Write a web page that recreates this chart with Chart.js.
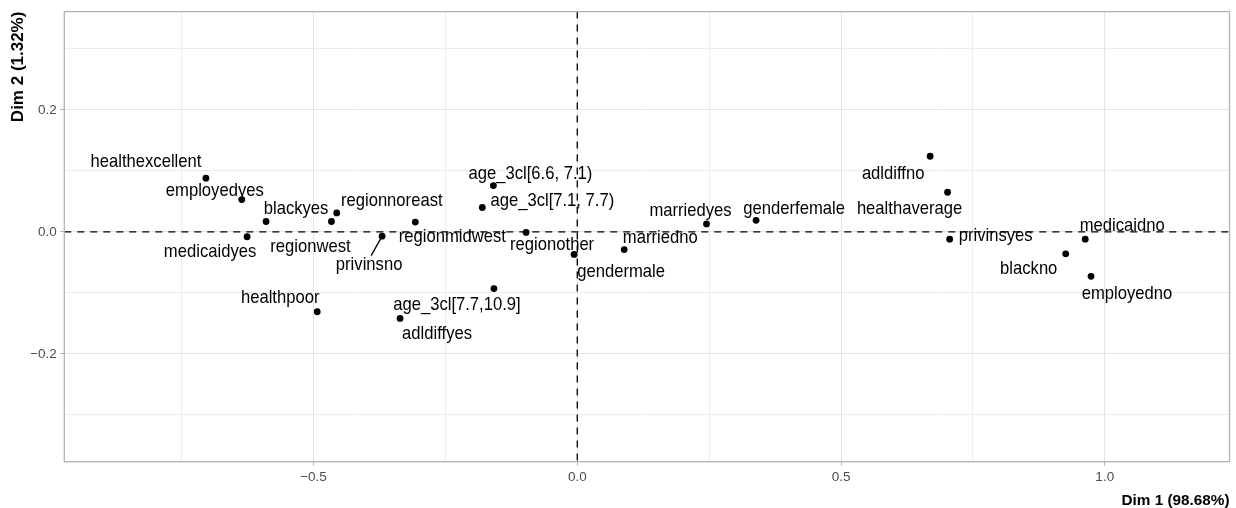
<!DOCTYPE html>
<html>
<head>
<meta charset="utf-8">
<title>MCA - variable categories</title>
<script src="https://cdn.jsdelivr.net/npm/chart.js@4.4.1/dist/chart.umd.min.js"></script>
<style>
  html, body { margin: 0; padding: 0; background: #fff; }
</style>
</head>
<body>
<canvas id="mcaChart" width="1236" height="508"></canvas>
<script>
// category coordinates
const categories = [
    "healthexcellent", "healthaverage", "healthpoor",
    "employedyes", "employedno",
    "blackyes", "blackno",
    "regionnoreast", "regionmidwest", "regionwest", "regionother",
    "medicaidyes", "medicaidno",
    "privinsyes", "privinsno",
    "age_3cl[6.6, 7.1)", "age_3cl[7.1, 7.7)", "age_3cl[7.7,10.9]",
    "adldiffyes", "adldiffno",
    "marriedyes", "marriedno",
    "genderfemale", "gendermale"
];
const dim1 = [
    -0.704, 0.702, -0.493,
    -0.636, 0.974,
    -0.590, 0.926,
    -0.456, -0.307, -0.466, -0.097,
    -0.626, 0.963,
    0.706, -0.370,
    -0.159, -0.180, -0.158,
    -0.336, 0.669,
    0.245, 0.089,
    0.339, -0.006
];
const dim2 = [
    0.088, 0.065, -0.131,
    0.053, -0.073,
    0.017, -0.036,
    0.031, 0.016, 0.017, -0.001,
    -0.008, -0.012,
    -0.012, -0.007,
    0.076, 0.040, -0.093,
    -0.142, 0.124,
    0.013, -0.029,
    0.019, -0.037
];

const xMajorTicks = [-0.5, 0, 0.5, 1.0];
const xTickLabels = ["\u22120.5", "0.0", "0.5", "1.0"];
const xMinorTicks = [-0.75, -0.25, 0.25, 0.75];
const yMajorTicks = [-0.2, 0, 0.2];
const yTickLabels = ["\u22120.2", "0.0", "0.2"];
const yMinorTicks = [-0.3, -0.1, 0.1, 0.3];

const xTitle = "Dim 1 (98.68%)";
const yTitle = "Dim 2 (1.32%)";

// where each text label sits relative to its point (pixels), like ggrepel placed them
const labelNudge = {
    "healthexcellent": [-60, -16],
    "healthaverage": [-38, 17],
    "healthpoor": [-37, -14],
    "employedyes": [-27, -9],
    "employedno": [36, 17],
    "blackyes": [30, -13],
    "blackno": [-37, 15],
    "regionnoreast": [55, -12],
    "regionmidwest": [37, 15],
    "regionwest": [-21, 25],
    "regionother": [26, 12],
    "medicaidyes": [-37, 15],
    "medicaidno": [37, -13],
    "privinsyes": [46, -3],
    "privinsno": [-13, 29, true],
    "age_3cl[6.6, 7.1)": [37, -12],
    "age_3cl[7.1, 7.7)": [70, -7],
    "age_3cl[7.7,10.9]": [-37, 16],
    "adldiffyes": [37, 15],
    "adldiffno": [-37, 17],
    "marriedyes": [-16, -13],
    "marriedno": [36, -12],
    "genderfemale": [38, -12],
    "gendermale": [47, 17]
};

const sans = '"Liberation Sans", Arial, sans-serif';
const xGrid = [...xMinorTicks, ...xMajorTicks].sort((a, b) => a - b);
const yGrid = [...yMinorTicks, ...yMajorTicks].sort((a, b) => a - b);

const isMajor = (list, v) => list.some(t => Math.abs(t - v) < 1e-9);

const mcaDecor = {
    id: "mcaDecor",
    beforeDatasetsDraw(chart) {
        const { ctx, chartArea: a, scales: { x, y } } = chart;
        ctx.save();
        // zero lines
        ctx.strokeStyle = "#000";
        ctx.lineWidth = 1.3;
        ctx.setLineDash([7, 6]);
        const x0 = x.getPixelForValue(0);
        const y0 = y.getPixelForValue(0);
        ctx.beginPath();
        ctx.moveTo(a.left, y0);
        ctx.lineTo(a.right, y0);
        ctx.stroke();
        ctx.beginPath();
        ctx.moveTo(x0, a.top);
        ctx.lineTo(x0, a.bottom);
        ctx.stroke();
        ctx.setLineDash([]);
        // panel border
        ctx.strokeStyle = "#b3b3b3";
        ctx.lineWidth = 1.3;
        ctx.strokeRect(a.left, a.top, a.right - a.left, a.bottom - a.top);
        ctx.restore();
    },
    afterDatasetsDraw(chart) {
        const { ctx, scales: { x, y } } = chart;
        ctx.save();
        ctx.font = "19px " + sans;
        ctx.fillStyle = "#000";
        ctx.textAlign = "center";
        ctx.textBaseline = "middle";
        categories.forEach((name, i) => {
            const px = x.getPixelForValue(dim1[i]);
            const py = y.getPixelForValue(dim2[i]);
            const [dx, dy, seg] = labelNudge[name];
            if (seg) {
                ctx.strokeStyle = "#000";
                ctx.lineWidth = 1.3;
                ctx.beginPath();
                ctx.moveTo(px, py);
                ctx.lineTo(px + dx + 2, py + dy - 9.5);
                ctx.stroke();
            }
            // the reference text is set in a condensed face
            ctx.save();
            ctx.translate(px + dx, py + dy);
            ctx.scale(0.875, 1);
            ctx.fillText(name, 0, 0);
            ctx.restore();
        });
        ctx.restore();
    }
};

const ctx = document.getElementById("mcaChart").getContext("2d");
new Chart(ctx, {
    type: "scatter",
    data: {
        datasets: [{
            label: "Variable categories",
            data: categories.map((c, i) => ({ x: dim1[i], y: dim2[i] })),
            backgroundColor: "#000",
            borderColor: "#000",
            pointRadius: 3.4,
            pointHoverRadius: 3.4,
            borderWidth: 0
        }]
    },
    options: {
        responsive: false,
        animation: false,
        layout: { padding: { top: 9.5, right: 6.5, bottom: 0, left: 0 } },
        plugins: {
            legend: { display: false },
            tooltip: { enabled: false }
        },
        scales: {
            x: {
                type: "linear",
                min: -0.9725,
                max: 1.2365,
                afterBuildTicks: s => { s.ticks = xGrid.map(v => ({ value: v })); },
                afterFit: s => { s.height = 46.3; },
                grid: {
                    color: c => isMajor(xMajorTicks, c.tick.value) ? "#e4e4e4" : "#ececec",
                    lineWidth: 1,
                    tickLength: 4,
                    tickColor: c => isMajor(xMajorTicks, c.tick.value) ? "#b3b3b3" : "rgba(0,0,0,0)"
                },
                border: { display: false },
                ticks: {
                    autoSkip: false,
                    maxRotation: 0,
                    padding: 3,
                    color: "#4d4d4d",
                    font: { family: sans, size: 13.5 },
                    callback: v => {
                        const k = xMajorTicks.findIndex(t => Math.abs(t - v) < 1e-9);
                        return k < 0 ? "" : xTickLabels[k];
                    }
                },
                title: {
                    display: true,
                    text: xTitle,
                    align: "end",
                    color: "#000",
                    font: { family: sans, size: 15.3, weight: "bold", lineHeight: 1 },
                    padding: { top: 0, bottom: 0 }
                }
            },
            y: {
                type: "linear",
                min: -0.377,
                max: 0.3613,
                afterBuildTicks: s => { s.ticks = yGrid.map(v => ({ value: v })); },
                afterFit: s => { s.width = 64.3; },
                grid: {
                    color: c => isMajor(yMajorTicks, c.tick.value) ? "#e4e4e4" : "#ececec",
                    lineWidth: 1,
                    tickLength: 4,
                    tickColor: c => isMajor(yMajorTicks, c.tick.value) ? "#b3b3b3" : "rgba(0,0,0,0)"
                },
                border: { display: false },
                ticks: {
                    autoSkip: false,
                    padding: 3.5,
                    color: "#4d4d4d",
                    font: { family: sans, size: 13.5 },
                    callback: v => {
                        const k = yMajorTicks.findIndex(t => Math.abs(t - v) < 1e-9);
                        return k < 0 ? "" : yTickLabels[k];
                    }
                },
                title: {
                    display: true,
                    text: yTitle,
                    align: "end",
                    color: "#000",
                    font: { family: sans, size: 17, weight: "bold", lineHeight: 1.2 },
                    padding: { top: 8, bottom: 0 }
                }
            }
        }
    },
    plugins: [mcaDecor]
});
</script>
</body>
</html>
